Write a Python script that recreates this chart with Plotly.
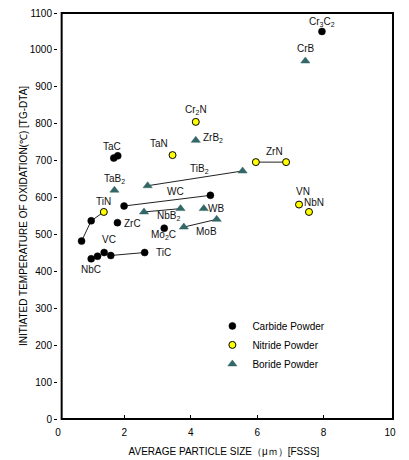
import plotly.graph_objects as go

# ---- data ----
carbide_names = ["Cr3C2", "TaC", "TaC", "WC", "WC", "ZrC", "Mo2C", "TiC_a", "TiC_b",
                 "NbC", "NbC_b", "VC", "TiC", "TiC"]
carbide_x = [7.95, 1.68, 1.80, 1.99, 4.59, 1.79, 3.20, 1.00, 0.71, 1.00, 1.19, 1.39, 1.59, 2.61]
carbide_y = [1050, 707, 713, 577, 606, 532, 517, 537, 482, 434, 441, 451, 443, 451]

nitride_names = ["Cr2N", "TaN", "ZrN", "ZrN", "TiN", "VN", "NbN"]
nitride_x = [4.15, 3.45, 5.96, 6.87, 1.38, 7.26, 7.56]
nitride_y = [805, 715, 696, 696, 561, 581, 561]

boride_names = ["CrB", "ZrB2", "TaB2", "TiB2", "TiB2", "NbB2", "NbB2", "WB", "MoB", "MoB"]
boride_x = [7.45, 4.15, 1.70, 2.70, 5.56, 2.59, 3.69, 4.39, 3.79, 4.78]
boride_y = [970, 755, 620, 632, 672, 561, 570, 570, 520, 541]

# connecting lines: (series, index list)
segments = [
    ("boride", [3, 4]), ("carbide", [3, 4]), ("boride", [5, 6]), ("boride", [8, 9]),
    ("nitride", [2, 3]), ("carbide", [12, 13]),
]
tin_chain = [("nitride", 4), ("carbide", 7), ("carbide", 8)]

label_text = ["Cr<sub>3</sub>C<sub>2</sub>", "CrB", "Cr<sub>2</sub>N", "ZrB<sub>2</sub>", "TaN", "TaC",
              "TaB<sub>2</sub>", "TiB<sub>2</sub>", "WC", "TiN", "NbB<sub>2</sub>", "WB", "ZrC", "MoB",
              "Mo<sub>2</sub>C", "VC", "TiC", "NbC", "ZrN", "VN", "NbN"]
label_x = [7.95, 7.47, 4.17, 4.66, 3.05, 1.64, 1.69, 4.27, 3.53, 1.38, 3.34, 4.77, 2.24, 4.48,
           3.18, 1.53, 3.17, 0.99, 6.52, 7.39, 7.72]
label_y = [1075, 1004, 836, 762, 746, 739, 649, 676, 616, 590, 551, 570, 531, 507,
           499, 486, 451, 404, 725, 617, 587]

x_ticks = [0, 2, 4, 6, 8, 10]
y_ticks = list(range(0, 1101, 100))

series = {"carbide": (carbide_x, carbide_y), "nitride": (nitride_x, nitride_y),
          "boride": (boride_x, boride_y)}

fig = go.Figure()

lx, ly = [], []
for s, idx in segments:
    xs, ys = series[s]
    for i in idx:
        lx.append(xs[i]); ly.append(ys[i])
    lx.append(None); ly.append(None)
for s, i in tin_chain:
    lx.append(series[s][0][i]); ly.append(series[s][1][i])

fig.add_trace(go.Scatter(x=lx, y=ly, mode="lines", line=dict(color="#222222", width=1),
                         showlegend=False, hoverinfo="skip"))

fig.add_trace(go.Scatter(x=carbide_x, y=carbide_y, mode="markers", name="Carbide Powder",
                         marker=dict(symbol="circle", size=7, color="#000000",
                                     line=dict(color="#000000", width=0.5))))
fig.add_trace(go.Scatter(x=nitride_x, y=nitride_y, mode="markers", name="Nitride Powder",
                         marker=dict(symbol="circle", size=7, color="#FFFF00",
                                     line=dict(color="#000000", width=1))))
fig.add_trace(go.Scatter(x=boride_x, y=boride_y, mode="markers", name="Boride Powder",
                         marker=dict(symbol="triangle-up", size=8, color="#336666",
                                     line=dict(color="#336666", width=0.5))))

for t, x, y in zip(label_text, label_x, label_y):
    fig.add_annotation(x=x, y=y, text=t, showarrow=False, xanchor="center", yanchor="middle",
                       font=dict(family="Liberation Sans, Arial", size=10, color="#111111"))

fig.add_shape(type="rect", xref="paper", yref="paper", x0=0.011, x1=1.009, y0=0, y1=1.0,
              line=dict(color="#000000", width=2), fillcolor="rgba(0,0,0,0)", layer="above")

fig.update_layout(
    width=409, height=460,
    margin=dict(l=58, r=19, t=13, b=41, autoexpand=False),
    paper_bgcolor="white", plot_bgcolor="white",
    font=dict(family="Liberation Sans, Arial", size=10, color="#000000"),
    legend=dict(x=0.465, y=0.265, xanchor="left", yanchor="top", bgcolor="rgba(0,0,0,0)",
                font=dict(size=10), itemwidth=30, tracegroupgap=0),
    xaxis=dict(range=[0, 10], tickvals=x_ticks, showgrid=False, zeroline=False,
               showline=False, ticks="inside", ticklen=4, tickcolor="#000", automargin=False,
               ticklabelstandoff=6,
               title=dict(text="AVERAGE PARTICLE SIZE（μｍ）[FSSS]", standoff=10,
                          font=dict(size=10))),
    yaxis=dict(range=[0, 1100], tickvals=y_ticks, showgrid=False, zeroline=False,
               showline=False, ticks="outside", ticklen=3, tickcolor="#000", automargin=False,
               title=dict(text="INITIATED TEMPERATURE OF OXIDATION(℃) [TG-DTA]", standoff=0,
                          font=dict(size=10))),
)

fig.write_html("out.html", config={"displayModeBar": False},
               post_script="document.body.style.margin='0px';")
